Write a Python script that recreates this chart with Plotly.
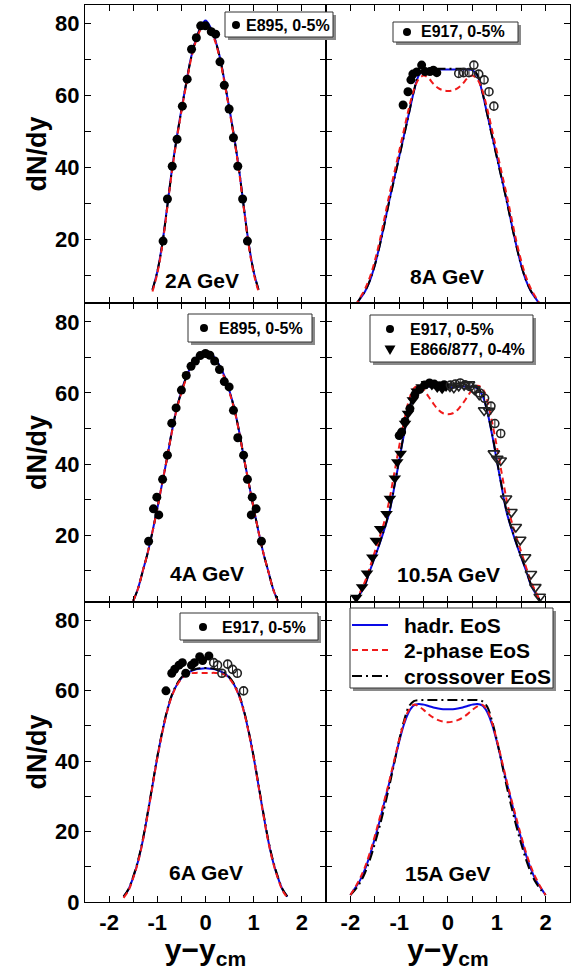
import plotly.graph_objects as go

# ---------------- data ----------------
# model curves (x = y - y_cm)
X_2A = [-1.1, -1.0, -0.9, -0.8, -0.7, -0.6, -0.5, -0.4, -0.3, -0.2, -0.1, 0.0,
        0.1, 0.2, 0.3, 0.4, 0.5, 0.6, 0.7, 0.8, 0.9, 1.0, 1.1]
HADR_2A = [6, 11, 18.5, 28.5, 39, 48, 56, 63.5, 70.5, 75.5, 79, 80.8,
           79, 75.5, 70.5, 63.5, 56, 48, 39, 28.5, 18.5, 11, 6]
TWOPH_2A = [5.5, 10.5, 18, 28, 38.5, 47.5, 55.5, 63, 70, 75, 78.3, 79.5,
            78.3, 75, 70, 63, 55.5, 47.5, 38.5, 28, 18, 10.5, 5.5]
CROSS_2A = [6, 11, 18.3, 28.3, 38.8, 47.8, 55.8, 63.3, 70.3, 75.3, 78.7, 80.2,
            78.7, 75.3, 70.3, 63.3, 55.8, 47.8, 38.8, 28.3, 18.3, 11, 6]

X_4A = [-1.5, -1.4, -1.3, -1.2, -1.1, -1.0, -0.9, -0.8, -0.7, -0.6, -0.5, -0.4, -0.3, -0.2, -0.1, 0.0,
        0.1, 0.2, 0.3, 0.4, 0.5, 0.6, 0.7, 0.8, 0.9, 1.0, 1.1, 1.2, 1.3, 1.4, 1.5]
HADR_4A = [1.5, 5, 10, 15, 21, 27.5, 34.5, 41.5, 49, 55.5, 60.5, 64.5, 67.5, 69.8, 71.2, 71.7,
           71.2, 69.8, 67.5, 64.5, 60.5, 55.5, 49, 41.5, 34.5, 27.5, 21, 15, 10, 5, 1.5]
TWOPH_4A = [1.5, 5, 10, 15, 21, 27.5, 34.5, 41.5, 48.8, 55.2, 60, 64, 67, 69.2, 70.5, 71,
            70.5, 69.2, 67, 64, 60, 55.2, 48.8, 41.5, 34.5, 27.5, 21, 15, 10, 5, 1.5]
CROSS_4A = [1.5, 5, 10, 15, 21, 27.5, 34.5, 41.5, 49, 55.4, 60.3, 64.3, 67.3, 69.5, 70.9, 71.4,
            70.9, 69.5, 67.3, 64.3, 60.3, 55.4, 49, 41.5, 34.5, 27.5, 21, 15, 10, 5, 1.5]

X_6A = [-1.7, -1.6, -1.5, -1.4, -1.3, -1.2, -1.1, -1.0, -0.9, -0.8, -0.7, -0.6, -0.5, -0.4, -0.3, -0.2, -0.1, 0.0,
        0.1, 0.2, 0.3, 0.4, 0.5, 0.6, 0.7, 0.8, 0.9, 1.0, 1.1, 1.2, 1.3, 1.4, 1.5, 1.6, 1.7]
HADR_6A = [1.5, 3.5, 7, 11.5, 17.5, 25, 33, 41, 48, 54, 58.5, 61.5, 63.5, 64.8, 65.5, 66, 66.2, 66.3,
           66.2, 66, 65.5, 64.8, 63.5, 61.5, 58.5, 54, 48, 41, 33, 25, 17.5, 11.5, 7, 3.5, 1.5]
TWOPH_6A = [1.2, 3.2, 6.8, 11.3, 17.3, 24.8, 32.8, 40.8, 47.8, 53.8, 58.3, 61.3, 63.3, 64.4, 64.9, 65, 65, 65,
            65, 65, 64.9, 64.4, 63.3, 61.3, 58.3, 53.8, 47.8, 40.8, 32.8, 24.8, 17.3, 11.3, 6.8, 3.2, 1.2]
CROSS_6A = [1.5, 3.6, 7.2, 11.8, 17.8, 25.3, 33.3, 41.2, 48.2, 54.2, 58.7, 61.7, 63.7, 65, 65.7, 66.1, 66.3, 66.4,
            66.3, 66.1, 65.7, 65, 63.7, 61.7, 58.7, 54.2, 48.2, 41.2, 33.3, 25.3, 17.8, 11.8, 7.2, 3.6, 1.5]

X_8A = [-1.9, -1.8, -1.7, -1.6, -1.5, -1.4, -1.3, -1.2, -1.1, -1.0, -0.9, -0.8, -0.7, -0.6, -0.5, -0.4, -0.3, -0.2, -0.1, 0.0,
        0.1, 0.2, 0.3, 0.4, 0.5, 0.6, 0.7, 0.8, 0.9, 1.0, 1.1, 1.2, 1.3, 1.4, 1.5, 1.6, 1.7, 1.8, 1.9]
HADR_8A = [1.5, 3.5, 5.5, 8.5, 12.8, 18.3, 24.5, 31, 37, 43, 49, 55, 61, 65.5, 67, 67.2, 67.2, 67.2, 67.2, 67.2,
           67.2, 67.2, 67.2, 67.2, 67, 65.5, 61, 55, 49, 43, 37, 31, 24.5, 18.3, 12.8, 8.5, 5.5, 3.5, 1.5]
TWOPH_8A = [1.5, 3.8, 6.2, 9.5, 14, 19.5, 26, 32.5, 38.5, 44.5, 50.5, 56.5, 61.5, 64.5, 65.5, 64.8, 63.2, 62, 61.4, 61.2,
            61.4, 62, 63.2, 64.8, 65.5, 64.5, 61.5, 56.5, 50.5, 44.5, 38.5, 32.5, 26, 19.5, 14, 9.5, 6.2, 3.8, 1.5]
CROSS_8A = [1.6, 3.6, 5.6, 8.6, 12.8, 18.2, 24.3, 30.8, 36.8, 42.8, 48.8, 55, 61.2, 65.8, 67.2, 67.4, 67.4, 67.4, 67.4, 67.4,
            67.4, 67.4, 67.4, 67.4, 67.2, 65.8, 61.2, 55, 48.8, 42.8, 36.8, 30.8, 24.3, 18.2, 12.8, 8.6, 5.6, 3.6, 1.6]

X_10A = [-1.9, -1.8, -1.7, -1.6, -1.5, -1.4, -1.3, -1.2, -1.1, -1.0, -0.9, -0.8, -0.7, -0.6, -0.5, -0.4, -0.3, -0.2, -0.1, 0.0,
         0.1, 0.2, 0.3, 0.4, 0.5, 0.6, 0.7, 0.8, 0.9, 1.0, 1.1, 1.2, 1.3, 1.4, 1.5, 1.6, 1.7, 1.8, 1.9]
HADR_10A = [1.2, 3.5, 6, 10, 13.8, 17.6, 21.8, 26.5, 33.5, 41, 48.5, 55, 59.5, 61.3, 61.8, 61.8, 61.8, 61.7, 61.6, 61.6,
            61.6, 61.7, 61.8, 61.8, 61.8, 61.3, 59.5, 55, 48.5, 41, 33.5, 26.5, 21.8, 17.6, 13.8, 10, 6, 3.5, 1.2]
TWOPH_10A = [1.2, 4, 7, 11, 15.3, 19.5, 24, 30, 37.5, 45, 52, 58, 61.3, 62, 61, 59, 57, 55.3, 54.3, 54,
             54.3, 55.3, 57, 59, 61, 62, 61.3, 58, 52, 45, 37.5, 30, 24, 19.5, 15.3, 11, 7, 4, 1.2]
CROSS_10A = [1.3, 3.6, 6.2, 10.2, 14, 17.8, 22, 26.8, 33.8, 41.3, 48.8, 55.2, 59.7, 61.5, 62, 62, 62, 61.9, 61.8, 61.8,
             61.8, 61.9, 62, 62, 62, 61.5, 59.7, 55.2, 48.8, 41.3, 33.8, 26.8, 22, 17.8, 14, 10.2, 6.2, 3.6, 1.3]

X_15A = [-2.0, -1.9, -1.8, -1.7, -1.6, -1.5, -1.4, -1.3, -1.2, -1.1, -1.0, -0.9, -0.8, -0.7, -0.6, -0.5, -0.4, -0.3, -0.2, -0.1, 0.0,
         0.1, 0.2, 0.3, 0.4, 0.5, 0.6, 0.7, 0.8, 0.9, 1.0, 1.1, 1.2, 1.3, 1.4, 1.5, 1.6, 1.7, 1.8, 1.9, 2.0]
HADR_15A = [2, 4, 6.2, 9.3, 13.3, 18, 23, 28.5, 34, 39.8, 45.5, 50.5, 54, 55.8, 56.2, 56, 55.6, 55.2, 54.9, 54.7, 54.7,
            54.7, 54.9, 55.2, 55.6, 56, 56.2, 55.8, 54, 50.5, 45.5, 39.8, 34, 28.5, 23, 18, 13.3, 9.3, 6.2, 4, 2]
TWOPH_15A = [2, 4.2, 6.8, 10, 14, 18.7, 23.8, 29, 34.5, 40.3, 46, 51, 54.5, 56, 55.5, 54.5, 53.3, 52.3, 51.6, 51.2, 51,
             51.2, 51.6, 52.3, 53.3, 54.5, 55.5, 56, 54.5, 51, 46, 40.3, 34.5, 29, 23.8, 18.7, 14, 10, 6.8, 4.2, 2]
CROSS_15A = [2, 3.5, 5.5, 8.3, 12, 16.5, 21.5, 27, 33, 39.5, 46, 51.5, 55.5, 57, 57.3, 57.3, 57.3, 57.3, 57.3, 57.3, 57.3,
             57.3, 57.3, 57.3, 57.3, 57.3, 57.3, 57, 55.5, 51.5, 46, 39.5, 33, 27, 21.5, 16.5, 12, 8.3, 5.5, 3.5, 2]

# measured points
E895_2A_X = [-0.88, -0.79, -0.69, -0.59, -0.48, -0.38, -0.29, -0.19, -0.10, 0.0, 0.12, 0.21, 0.30, 0.39, 0.49, 0.58, 0.67, 0.77, 0.87]
E895_2A_Y = [19.5, 31.2, 40.3, 47.8, 57, 64.5, 72.8, 76, 79.3, 79.3, 77.7, 77, 69.3, 62.8, 56.2, 48.2, 40.3, 31.2, 19.5]

E895_4A_X = [-1.18, -1.08, -1.01, -0.97, -0.89, -0.79, -0.70, -0.61, -0.50, -0.40, -0.30, -0.21, -0.11, 0.0,
             0.09, 0.19, 0.29, 0.39, 0.49, 0.58, 0.67, 0.79, 0.87, 0.95, 0.97, 1.05, 1.16]
E895_4A_Y = [18.3, 27.4, 30.7, 25.7, 35.7, 42.5, 51.5, 55.8, 60.8, 64.9, 67.5, 69, 70.5, 71.1,
             70.6, 69, 66.6, 63.2, 61.7, 55.1, 47.4, 42.5, 35.7, 25.7, 30.7, 27.4, 18.3]

E917_6A_X = [-0.82, -0.70, -0.64, -0.55, -0.48, -0.41, -0.29, -0.23, -0.12, -0.06, 0.07]
E917_6A_Y = [59.9, 64.9, 66, 67.2, 67.9, 64.9, 67.2, 67.9, 69.6, 68.5, 69.8]
E917_6A_REFL_X = [0.17, 0.25, 0.34, 0.46, 0.56, 0.66, 0.79]
E917_6A_REFL_Y = [67.9, 67.2, 64.9, 67.5, 66, 64.9, 59.9]

E917_8A_X = [-0.92, -0.82, -0.76, -0.72, -0.64, -0.54, -0.47, -0.37, -0.30, -0.23]
E917_8A_Y = [57.3, 61, 64.3, 65.9, 66.5, 68.4, 66.6, 66.6, 67, 66.3]
E917_8A_REFL_X = [0.22, 0.32, 0.43, 0.53, 0.63, 0.74, 0.84, 0.94]
E917_8A_REFL_Y = [66.1, 66.3, 66.3, 68.4, 65.9, 64.3, 61, 57]

E917_10A_X = [-1.0, -0.95, -0.88, -0.78, -0.68, -0.58, -0.48, -0.38, -0.28, -0.18, -0.08]
E917_10A_Y = [48, 49, 52, 55.6, 59.5, 61, 62.2, 62.8, 62.5, 62, 62.3]
E917_10A_REFL_X = [0.05, 0.15, 0.25, 0.35, 0.45, 0.55, 0.65, 0.75, 0.88, 0.96, 1.08]
E917_10A_REFL_Y = [62.2, 62.5, 62.8, 62.3, 61.8, 61, 60, 58.5, 56.3, 51.4, 48.6]
E866_10A_X = [-1.88, -1.76, -1.66, -1.55, -1.48, -1.39, -1.26, -1.19, -1.09, -1.04, -0.97, -0.88, -0.82,
              -0.72, -0.64, -0.54, -0.43, -0.33, -0.22, -0.12, -0.04]
E866_10A_Y = [2.5, 5.4, 9.3, 13.8, 18.5, 21.8, 26, 30.3, 36, 40.6, 43, 51.4, 54.2,
              58, 60.5, 61.7, 62.6, 62.2, 61.5, 61.2, 61.8]
E866_10A_REFL_X = [0.04, 0.12, 0.22, 0.33, 0.43, 0.54, 0.64, 0.74, 0.84, 0.94, 1.01, 1.08, 1.19,
                   1.30, 1.39, 1.48, 1.58, 1.70, 1.79, 1.88]
E866_10A_REFL_Y = [61.8, 61.5, 62, 62.2, 62.4, 61, 59.5, 55.1, 55, 43, 41.5, 41, 30.3,
                   26.5, 22.3, 18.7, 13.8, 9.1, 5.4, 2.7]

PANEL_LABELS = ["2A GeV", "8A GeV", "4A GeV", "10.5A GeV", "6A GeV", "15A GeV"]
MODEL_NAMES = ["hadr. EoS", "2-phase EoS", "crossover EoS"]
DATA_LABELS = ["E895, 0-5%", "E917, 0-5%", "E895, 0-5%", "E917, 0-5%", "E866/877, 0-4%", "E917, 0-5%"]
X_TICKS = [-2, -1, 0, 1, 2]
X_TICK_LABELS = ["-2", "-1", "0", "1", "2"]
Y_TICKS = [0, 20, 40, 60, 80]
Y_TICK_LABELS = ["0", "20", "40", "60", "80"]

# ---------------- layout helpers ----------------
W, H = 571, 970
ML, MR, MT, MB = 85, 1, 5, 68
PW, PH = W - ML - MR, H - MT - MB
FONT = "Liberation Sans, Arial, Helvetica, sans-serif"


def px(x):
    return (x - ML) / PW


def py(y):
    return (H - MB - y) / PH


XL = [0, 0.4969]
XR = [0.4969, 1]
YT = [0.6678, 1]
YM = [0.3344, 0.6678]
YB = [0, 0.3344]

BLUE = "#0a0ae6"
RED = "#f01a1a"
LW = 1.2
DASH = "6px,4px"
DASHDOT = "10px,4px,2px,4px"

fig = go.Figure()

curves = [
    (X_2A, HADR_2A, TWOPH_2A, CROSS_2A, "x", "y"),
    (X_8A, HADR_8A, TWOPH_8A, CROSS_8A, "x2", "y2"),
    (X_4A, HADR_4A, TWOPH_4A, CROSS_4A, "x3", "y3"),
    (X_10A, HADR_10A, TWOPH_10A, CROSS_10A, "x4", "y4"),
    (X_6A, HADR_6A, TWOPH_6A, CROSS_6A, "x5", "y5"),
    (X_15A, HADR_15A, TWOPH_15A, CROSS_15A, "x6", "y6"),
]
for xs, h, t, c, xa, ya in curves:
    fig.add_trace(go.Scatter(x=xs, y=h, mode="lines", name=MODEL_NAMES[0], xaxis=xa, yaxis=ya,
                             line=dict(color=BLUE, width=2, shape="spline"), showlegend=False))
    fig.add_trace(go.Scatter(x=xs, y=c, mode="lines", name=MODEL_NAMES[2], xaxis=xa, yaxis=ya,
                             line=dict(color="black", width=2, dash=DASHDOT, shape="spline"), showlegend=False))
    fig.add_trace(go.Scatter(x=xs, y=t, mode="lines", name=MODEL_NAMES[1], xaxis=xa, yaxis=ya,
                             line=dict(color=RED, width=2, dash=DASH, shape="spline"), showlegend=False))


def filled(xs, ys, xa, ya, name, symbol="circle", size=9):
    fig.add_trace(go.Scatter(x=xs, y=ys, mode="markers", name=name, xaxis=xa, yaxis=ya, showlegend=False,
                             marker=dict(symbol=symbol, size=size, color="black", line=dict(width=0))))


def reflected(xs, ys, xa, ya, name, symbol="circle-open", size=8):
    fig.add_trace(go.Scatter(x=xs, y=ys, mode="markers", name=name + " (reflected)", xaxis=xa, yaxis=ya,
                             showlegend=False,
                             error_y=dict(type="constant", value=1.2, color="#222", thickness=1, width=0)
                             if symbol.startswith("circle") else None,
                             marker=dict(symbol=symbol, size=size, color="#222", line=dict(width=1.6, color="#222"))))


filled(E895_2A_X, E895_2A_Y, "x", "y", DATA_LABELS[0])
filled(E917_8A_X, E917_8A_Y, "x2", "y2", DATA_LABELS[1])
reflected(E917_8A_REFL_X, E917_8A_REFL_Y, "x2", "y2", DATA_LABELS[1])
filled(E895_4A_X, E895_4A_Y, "x3", "y3", DATA_LABELS[2])
filled(E866_10A_X, E866_10A_Y, "x4", "y4", DATA_LABELS[4], symbol="triangle-down", size=11)
reflected(E866_10A_REFL_X, E866_10A_REFL_Y, "x4", "y4", DATA_LABELS[4], symbol="triangle-down-open", size=10)
filled(E917_10A_X, E917_10A_Y, "x4", "y4", DATA_LABELS[3])
reflected(E917_10A_REFL_X, E917_10A_REFL_Y, "x4", "y4", DATA_LABELS[3])
filled(E917_6A_X, E917_6A_Y, "x5", "y5", DATA_LABELS[5])
reflected(E917_6A_REFL_X, E917_6A_REFL_Y, "x5", "y5", DATA_LABELS[5])

# ---------------- axes ----------------
tickfont = dict(family=FONT, size=22, color="black", weight="bold")


def xax(domain, anchor, labels, title=None):
    d = dict(domain=domain, anchor=anchor, range=[-2.5, 2.5], tickmode="array", tickvals=X_TICKS,
             ticktext=X_TICK_LABELS, automargin=False,
             showticklabels=labels, tickfont=tickfont, ticks="inside", ticklen=6, tickwidth=LW,
             tickcolor="black", showline=True, linecolor="black", linewidth=LW, mirror="allticks",
             showgrid=False, zeroline=False,
             minor=dict(dtick=0.5, tick0=0, ticks="inside", ticklen=6, tickwidth=LW, tickcolor="black",
                        showgrid=False))
    if title:
        d["title"] = dict(text=title, font=dict(family=FONT, size=30, color="black", weight="bold"), standoff=15)
    return d


def yax(domain, anchor, rng, labels):
    d = dict(domain=domain, anchor=anchor, range=rng, tickmode="array", tickvals=Y_TICKS,
             ticktext=Y_TICK_LABELS, automargin=False,
             showticklabels=labels, tickfont=tickfont, ticks="inside", ticklen=6, tickwidth=LW,
             tickcolor="black", showline=True, linecolor="black", linewidth=LW, mirror="allticks",
             showgrid=False, zeroline=False,
             minor=dict(dtick=10, tick0=0, ticks="inside", ticklen=6, tickwidth=LW, tickcolor="black",
                        showgrid=False))
    if labels:
        d["title"] = dict(text="dN/dy", font=dict(family=FONT, size=27, color="black", weight="bold"), standoff=0)
    return d


XTITLE = "y\u2212y<sub>cm</sub>"
fig.update_layout(
    xaxis=xax(XL, "y", False), yaxis=yax(YT, "x", [2.3, 85.1], True),
    xaxis2=xax(XR, "y2", False), yaxis2=yax(YT, "x2", [2.3, 85.1], False),
    xaxis3=xax(XL, "y3", False), yaxis3=yax(YM, "x3", [1.2, 85.3], True),
    xaxis4=xax(XR, "y4", False), yaxis4=yax(YM, "x4", [1.2, 85.3], False),
    xaxis5=xax(XL, "y5", True, XTITLE), yaxis5=yax(YB, "x5", [0, 85.1], True),
    xaxis6=xax(XR, "y6", True, XTITLE), yaxis6=yax(YB, "x6", [0, 85.1], False),
)

# ---------------- annotations & legend boxes ----------------
shapes = []
annotations = []


def box(x0, y0, x1, y1):
    shapes.append(dict(type="rect", xref="paper", yref="paper", x0=px(x0 + 3), x1=px(x1 + 3),
                       y0=py(y1 + 3), y1=py(y0 + 3), fillcolor="#8a8a8a", line=dict(width=0), layer="above"))
    shapes.append(dict(type="rect", xref="paper", yref="paper", x0=px(x0), x1=px(x1),
                       y0=py(y1), y1=py(y0), fillcolor="white", line=dict(color="#333", width=1), layer="above"))


def dot(cx, cy, r=4):
    shapes.append(dict(type="circle", xref="paper", yref="paper", x0=px(cx - r), x1=px(cx + r),
                       y0=py(cy + r), y1=py(cy - r), fillcolor="black", line=dict(color="black", width=0),
                       layer="above"))


def tri(cx, cy, r=5.5):
    path = "M {},{} L {},{} L {},{} Z".format(px(cx - r), py(cy - r * 0.8), px(cx + r), py(cy - r * 0.8),
                                              px(cx), py(cy + r * 0.9))
    shapes.append(dict(type="path", xref="paper", yref="paper", path=path, fillcolor="black",
                       line=dict(color="black", width=0), layer="above"))


def text(tx, ty, s, size=16, anchor="left"):
    annotations.append(dict(x=px(tx), y=py(ty), xref="paper", yref="paper", text="<b>" + s + "</b>",
                            showarrow=False, xanchor=anchor, yanchor="middle",
                            font=dict(family=FONT, size=size, color="black")))


def sample(x0, x1, cy, color, dash):
    shapes.append(dict(type="line", xref="paper", yref="paper", x0=px(x0), x1=px(x1), y0=py(cy), y1=py(cy),
                       line=dict(color=color, width=2, dash=dash), layer="above"))


# 2A
box(225, 12, 333, 37); dot(236, 25); text(244, 25, DATA_LABELS[0])
# 8A
box(393, 22, 518, 42); dot(407, 32); text(419, 32, DATA_LABELS[1])
# 4A
box(188, 314, 312, 342); dot(204, 328); text(217, 328, DATA_LABELS[2])
# 10.5A
box(370, 315, 533, 362); dot(390, 329); tri(390, 350)
text(408, 329, DATA_LABELS[3]); text(408, 350, DATA_LABELS[4])
# 6A
box(180, 613, 318, 640); dot(203, 627); text(220, 627, DATA_LABELS[5])
# 15A model legend
box(350, 608, 553, 688)
sample(352, 388, 625, BLUE, "solid"); text(402, 625, MODEL_NAMES[0], size=21)
sample(352, 388, 650, RED, DASH); text(402, 650, MODEL_NAMES[1], size=21)
sample(352, 388, 676, "black", DASHDOT); text(402, 676, MODEL_NAMES[2], size=21)

# panel labels
label_pos = [(202, 280), (447, 276), (207, 573), (448, 574), (206, 872), (448, 873)]
for (lx, ly), lab in zip(label_pos, PANEL_LABELS):
    text(lx, ly, lab, size=21, anchor="center")

fig.update_layout(
    width=W, height=H, margin=dict(l=ML, r=MR, t=MT, b=MB),
    paper_bgcolor="white", plot_bgcolor="white", showlegend=False,
    shapes=shapes, annotations=annotations,
    font=dict(family=FONT, color="black"),
)

fig.write_html("out.html")
